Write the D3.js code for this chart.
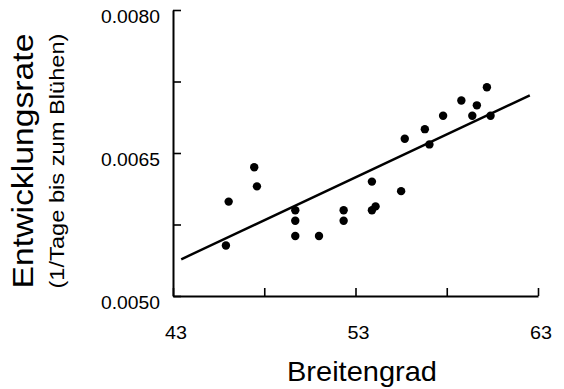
<!DOCTYPE html>
<html>
<head>
<meta charset="utf-8">
<script src="https://cdn.jsdelivr.net/npm/d3@7"></script>
<style>
  html, body { margin: 0; padding: 0; background: #fff; }
  svg { display: block; }
  text { font-family: "Liberation Sans", Arial, Helvetica, sans-serif; fill: #000; }
</style>
</head>
<body>
<svg id="chart" width="564" height="389"></svg>
<script>
// Latitude (degrees) of each population
const latitude = [45.9, 46.05, 47.45, 47.6, 49.7, 49.7, 49.7, 51.0, 52.35, 52.35,
                  53.9, 53.9, 54.1, 55.5, 55.7, 56.8, 57.05, 57.8, 58.8, 59.4, 59.65, 60.2, 60.4];
// Development rate (1 / days until flowering)
const rate = [0.00553, 0.00599, 0.00635, 0.00615, 0.00590, 0.00579, 0.00563, 0.00563, 0.00590, 0.00579,
              0.00620, 0.00590, 0.00594, 0.00610, 0.00665, 0.00675, 0.00659, 0.00689, 0.00705, 0.00689, 0.00700, 0.00719, 0.00689];
// Fitted regression line endpoints
const fitX = [43.45, 62.55];
const fitY = [0.005385, 0.007105];

const xTicks = [43, 48, 53, 58, 63];
const xTickLabels = ["43", "", "53", "", "63"];
const yTicks = [0.0050, 0.00575, 0.0065, 0.00725, 0.0080];
const yTickLabels = ["0.0050", "", "0.0065", "", "0.0080"];

const svg = d3.select("#chart");
const plotLeft = 173, plotRight = 538, plotTop = 10, plotBottom = 296;

const x = d3.scaleLinear().domain([43, 63]).range([plotLeft, plotRight]);
const y = d3.scaleLinear().domain([0.0050, 0.0080]).range([plotBottom, plotTop]);

// Axes with inward ticks
const xAxis = d3.axisBottom(x).tickValues(xTicks).tickSize(-8).tickSizeOuter(0).tickFormat(() => "");
const yAxis = d3.axisLeft(y).tickValues(yTicks).tickSize(-8).tickSizeOuter(0).tickFormat(() => "");

const gx = svg.append("g").attr("transform", `translate(0,${plotBottom})`).call(xAxis);
const gy = svg.append("g").attr("transform", `translate(${plotLeft},0)`).call(yAxis);
[gx, gy].forEach(g => {
  g.select(".domain").attr("stroke", "#000").attr("stroke-width", 2);
  g.selectAll(".tick line").attr("stroke", "#000").attr("stroke-width", 1.6);
});

// Tick labels
svg.append("g").selectAll("text")
  .data(xTicks.map((v, i) => ({ v, t: xTickLabels[i] })).filter(d => d.t))
  .join("text")
  .attr("x", d => x(d.v) + 3)
  .attr("y", plotBottom + 43)
  .attr("text-anchor", "middle")
  .attr("font-size", 18)
  .attr("textLength", 22)
  .attr("lengthAdjust", "spacingAndGlyphs")
  .text(d => d.t);

svg.append("g").selectAll("text")
  .data(yTicks.map((v, i) => ({ v, t: yTickLabels[i] })).filter(d => d.t))
  .join("text")
  .attr("x", plotLeft - 13)
  .attr("y", d => y(d.v) + 13)
  .attr("text-anchor", "end")
  .attr("font-size", 18)
  .attr("textLength", 59)
  .attr("lengthAdjust", "spacingAndGlyphs")
  .text(d => d.t);

// Regression line
svg.append("path")
  .datum(fitX.map((v, i) => [v, fitY[i]]))
  .attr("fill", "none")
  .attr("stroke", "#000")
  .attr("stroke-width", 2.4)
  .attr("d", d3.line().x(d => x(d[0])).y(d => y(d[1])));

// Observations
svg.append("g").selectAll("circle")
  .data(latitude.map((v, i) => [v, rate[i]]))
  .join("circle")
  .attr("cx", d => x(d[0]))
  .attr("cy", d => y(d[1]))
  .attr("r", 4.2)
  .attr("fill", "#000");

// Axis titles
svg.append("text")
  .attr("x", 362)
  .attr("y", 381)
  .attr("text-anchor", "middle")
  .attr("font-size", 28)
  .attr("textLength", 150)
  .attr("lengthAdjust", "spacingAndGlyphs")
  .text("Breitengrad");

svg.append("text")
  .attr("transform", "translate(33,161) rotate(-90)")
  .attr("text-anchor", "middle")
  .attr("font-size", 30)
  .attr("textLength", 255)
  .attr("lengthAdjust", "spacingAndGlyphs")
  .text("Entwicklungsrate");

svg.append("text")
  .attr("transform", "translate(64,161) rotate(-90)")
  .attr("text-anchor", "middle")
  .attr("font-size", 20)
  .attr("textLength", 255)
  .attr("lengthAdjust", "spacingAndGlyphs")
  .text("(1/Tage bis zum Blühen)");
</script>
</body>
</html>
